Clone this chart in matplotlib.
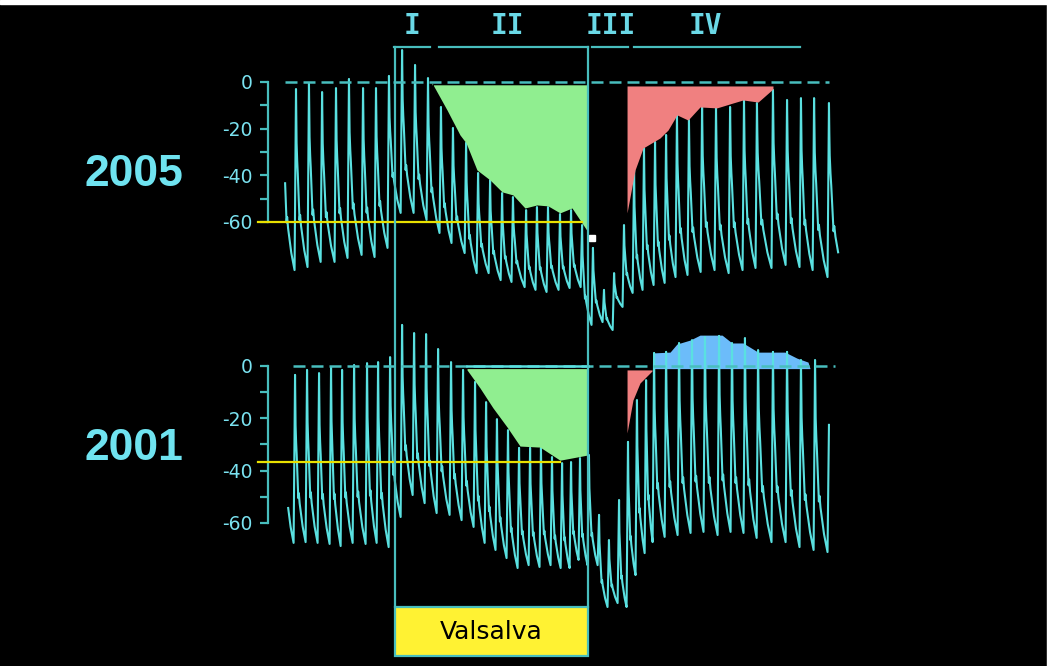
import numpy as np
import matplotlib
matplotlib.use("Agg")
import matplotlib.pyplot as plt
from matplotlib.patches import Rectangle

# beat times (s) with systolic peak and the diastolic trough just before it (mmHg, 0 = resting peak)
# first entry is the lead-in beat whose tail starts the trace
t05 = [0.19, 1.0, 1.81, 2.63, 3.5, 4.31, 5.19, 6.0, 6.81, 7.63, 8.44, 9.25, 10.06, 10.81, 11.63,
       12.38, 13.13, 13.88, 14.56, 15.38, 16.06, 16.75, 17.5, 18.19, 18.88, 19.56, 20.25, 20.88,
       21.5, 22.13, 22.75, 23.44, 24.13, 24.81, 25.56, 26.38, 27.25, 28.13, 29.0, 29.81, 30.81,
       31.69, 32.56, 33.38, 34.31]
sys05 = [-3, -3.0, -0.4, -4.3, -2.6, 1.3, -2.6, -2.6, 2.6, 13.7, 7.3, 1.7, -10.7, -19.7, -26.1,
         -39.0, -42.0, -47.6, -49.3, -54.9, -53.6, -53.6, -56.6, -54.9, -61.3, -71.1, -89.1, -81.9,
         -61.3, -37.7, -28.3, -25.7, -22.7, -14.1, -16.3, -10.3, -11.1, -10.7, -7.7, -9.0, -3.4,
         -7.7, -6.9, -6.9, -9.0]
dia05 = [-76, -80.6, -79.3, -77.1, -77.1, -75.4, -74.1, -75, -71.1, -56.1, -56.1, -59.1, -64.7, -69,
         -73.3, -81.9, -81.9, -84.9, -85.7, -87.9, -89.1, -90, -89.1, -88.3, -87.9, -104.1, -102.9,
         -106.3, -96.4, -90.4, -89.1, -87, -86.1, -83.6, -82.7, -81.4, -80.6, -81.9, -80.6, -79.7,
         -79.7, -78.4, -79.3, -80.6, -83.6]

t01 = [0.19, 0.94, 1.69, 2.44, 3.19, 3.88, 4.63, 5.44, 6.13, 6.88, 7.63, 8.38, 9.13, 9.88, 10.69,
       11.44, 12.19, 12.88, 13.56, 14.25, 14.94, 15.63, 16.31, 17.0, 17.63, 18.19, 18.75, 19.31,
       19.94, 20.56, 21.19, 21.75, 22.31, 22.88, 23.38, 24.13, 24.94, 25.75, 26.56, 27.44, 28.25,
       29.06, 29.88, 30.81, 31.69, 32.56, 33.44, 34.31]
sys01 = [-3, -3.4, -1.5, -2.7, -0.4, -1.5, 0.4, 1.1, 1.5, 3.4, 15.7, 12.6, 12.2, 6.5, 1.5, -1.5,
         -6.1, -13.8, -20.3, -24.5, -31.3, -31.3, -31.3, -34.8, -37.1, -36.7, -35.2, -34.0,
         -56.9, -66.5, -51.2, -29.0, -13.0, -5.4, 5.0, 5.4, 8.8, 9.9, 11.1, 11.5, 8.8, 10.7, 6.1,
         5.4, 5.4, 2.3, 2.3, -22.5]
dia01 = [-67, -67.6, -67.3, -67.6, -68.0, -68.8, -67.6, -68.0, -67.6, -69.2, -57.7, -49.3, -52.4,
         -56.2, -56.9, -58.9, -61.5, -67.6, -70.3, -73.4, -77.2, -76.1, -76.8, -76.1, -77.2, -77.2,
         -74.1, -76.1, -76.1, -92.1, -90.6, -92.1, -79.9, -71.5, -67.3, -65.3, -64.6, -63.8, -63.4,
         -64.6, -63.4, -63.8, -65.7, -67.3, -67.3, -69.2, -70.3, -71.1]

# shaded areas (envelope of the peaks)
green05_t = [9.5, 10.44, 11.25, 11.63, 12.31, 13.13, 13.88, 14.56, 15.31, 16.06, 16.75, 17.5, 18.25, 19.25]
green05_v = [-0.4, -12, -22.7, -26.1, -37.7, -42, -47.1, -48.4, -54, -52.7, -53.1, -56.1, -54, -64.3]
red05_t = [21.69, 22.19, 22.69, 23.75, 24.25, 24.81, 25.5, 26.25, 27.31, 28.31, 28.94, 29.88, 30.81]
red05_v = [-56.1, -37.7, -28.3, -24, -20.6, -14.1, -16.3, -10.7, -11.1, -9, -7.7, -8.6, -3]
green01_t = [11.69, 12.5, 13.31, 14.19, 15.0, 16.25, 17.5, 19.25]
green01_v = [-1.5, -8.4, -16, -23.3, -30.6, -31, -36, -34]
red01_t = [21.69, 22.06, 22.5, 23.25]
red01_v = [-25.6, -13, -6.5, -1.9]
blue01_t = [23.31, 24.38, 24.81, 25.63, 26.25, 27.63, 28.25, 28.94, 29.88, 31.56, 32.31, 33.0, 33.13]
blue01_v = [5.0, 5.3, 8.4, 9.9, 11.8, 11.8, 8.8, 8.8, 5.3, 5.3, 3.0, 1.5, -1]

phases = ['I', 'II', 'III', 'IV']
phase_start = [7.13, 9.94, 19.5, 22.13]
phase_end = [9.38, 19.25, 21.75, 32.5]
valsalva_on, valsalva_off = 7.19, 19.25
ref05, ref01 = -60, -36.7

trace_col = '#5ae0e0'
axis_col = '#48bebe'
label_col = '#7ae2f0'

# one beat's fall from peak to next trough (fraction of the beat, relative level)
shape_u = [0, 0.04, 0.1, 0.14, 0.28, 0.31, 0.35, 0.42, 0.7, 1.0]
shape_v = [1, 0.72, 0.6, 0.55, 0.3, 0.26, 0.3, 0.24, 0.1, 0.0]
RISE = 0.09


def pressure_trace(t, sys, dia, t0, t1, end_at_peak=False):
    xs, ys = [], []
    u = np.linspace(0, 1, 40)
    lv = np.interp(u, shape_u, shape_v)
    for i in range(len(t)):
        xs += [t[i] - RISE, t[i]]
        ys += [dia[i], sys[i]]
        if i < len(t) - 1:
            nt, nv = t[i + 1] - RISE, dia[i + 1]
        else:
            if end_at_peak:
                break
            nt, nv = t[i] + (t[i] - t[i - 1]), dia[i]
        xs += list(t[i] + u[1:-1] * (nt - t[i]))
        ys += list(nv + lv[1:-1] * (sys[i] - nv))
    xs, ys = np.array(xs), np.array(ys)
    m = (xs >= t0) & (xs <= t1)
    return xs[m], ys[m]


W, H = 1055, 666
xlim = (-280 / 16, (W - 280) / 16)

fig = plt.figure(figsize=(W / 100, H / 100), dpi=100, facecolor='black')
# white margin strips of the original screenshot
fig.patches.append(Rectangle((0, 1 - 4 / H), 1, 4 / H, transform=fig.transFigure,
                             color='white', zorder=-1))
fig.patches.append(Rectangle((1047 / W, 0), 8 / W, 1, transform=fig.transFigure,
                             color='white', zorder=-1))

ax1 = fig.add_axes([0, 0, 1, 1])
ax2 = fig.add_axes([0, 0, 1, 1])
ov = fig.add_axes([0, 0, 1, 1])
ax1.set_ylim(-250.29, 35.14)
ax2.set_ylim(-114.65, 139.87)

for ax in (ax1, ax2):
    ax.set_xlim(*xlim)
    ax.patch.set_visible(False)
    for s in ['top', 'right', 'bottom']:
        ax.spines[s].set_visible(False)
    ax.spines['left'].set_position(('data', -0.75))
    ax.spines['left'].set_bounds(-60, 0)
    ax.spines['left'].set_color(axis_col)
    ax.spines['left'].set_linewidth(1.6)
    ax.set_xticks([])
    ax.set_yticks([0, -20, -40, -60])
    ax.set_yticklabels(['0', '-20', '-40', '-60'])
    ax.set_yticks([-10, -30, -50], minor=True)
    ax.tick_params(axis='y', which='both', direction='out', length=6, width=1.6,
                   color=axis_col, labelcolor=label_col, labelsize=13.5, pad=5)

# 2005
x, y = pressure_trace(t05, sys05, dia05, 0.31, 34.9)
ax1.plot(x, y, color=trace_col, lw=1.5, zorder=2)
ax1.plot([0.3, 34.3], [0, 0], color=axis_col, lw=1.8, ls=(0, (4.8, 2.4)), zorder=2.5)
ax1.fill_between(green05_t, green05_v, -1.2, color='#90ee90', lw=0, zorder=3)
ax1.fill_between(red05_t, red05_v, -1.7, color='#f08080', lw=0, zorder=3)
ax1.plot([-1.38, 18.88], [ref05, ref05], color='#e8e000', lw=1.6, zorder=4)
ax1.plot([19.5], [-66.9], 's', color='white', ms=5, zorder=5)

# 2001
x, y = pressure_trace(t01, sys01, dia01, 0.5, 40, end_at_peak=True)
ax2.fill_between(blue01_t, blue01_v, -1, color='#6cbcfa', lw=0, zorder=1)
ax2.plot(x, y, color=trace_col, lw=1.5, zorder=2)
ax2.plot([0.8, 34.7], [0, 0], color=axis_col, lw=1.8, ls=(0, (4.8, 2.4)), zorder=2.5)
ax2.fill_between(green01_t, green01_v, -1, color='#90ee90', lw=0, zorder=3)
ax2.fill_between(red01_t, red01_v, -1.5, color='#f08080', lw=0, zorder=3)
ax2.plot([green01_t[0], green01_t[-1]], [0, 0], color=trace_col, lw=1.8, zorder=3.5)
ax2.plot([-1.38, 17.5], [ref01, ref01], color='#e8e000', lw=1.6, zorder=4)

# overlay: phases, Valsalva box, years
ov.set_xlim(*xlim)
ov.set_ylim(H, 0)
ov.axis('off')
label_x = [8.25, 14.2, 20.7, 26.6]
for name, a, b, lx in zip(phases, phase_start, phase_end, label_x):
    ov.plot([a, b], [47, 47], color=axis_col, lw=1.6)
    ov.text(lx, 26, name, ha='center', va='center', fontsize=20, fontweight='bold',
            family='DejaVu Sans Mono', color='#6ad8e6')
for xv in (valsalva_on, valsalva_off):
    ov.plot([xv, xv], [47, 607], color=axis_col, lw=1.6)
ov.add_patch(Rectangle((valsalva_on, 607), valsalva_off - valsalva_on, 49,
                       facecolor='#fff233', edgecolor=axis_col, lw=1.6))
ov.text((valsalva_on + valsalva_off) / 2, 632, 'Valsalva', ha='center', va='center',
        fontsize=18, color='black')
ov.text(-9.125, 175, '2005', ha='center', va='center', fontsize=32, fontweight='bold',
        family='Liberation Sans', color='#6fe3f0')
ov.text(-9.125, 449, '2001', ha='center', va='center', fontsize=32, fontweight='bold',
        family='Liberation Sans', color='#6fe3f0')

fig.savefig('out.png', dpi=100, facecolor=fig.get_facecolor())
